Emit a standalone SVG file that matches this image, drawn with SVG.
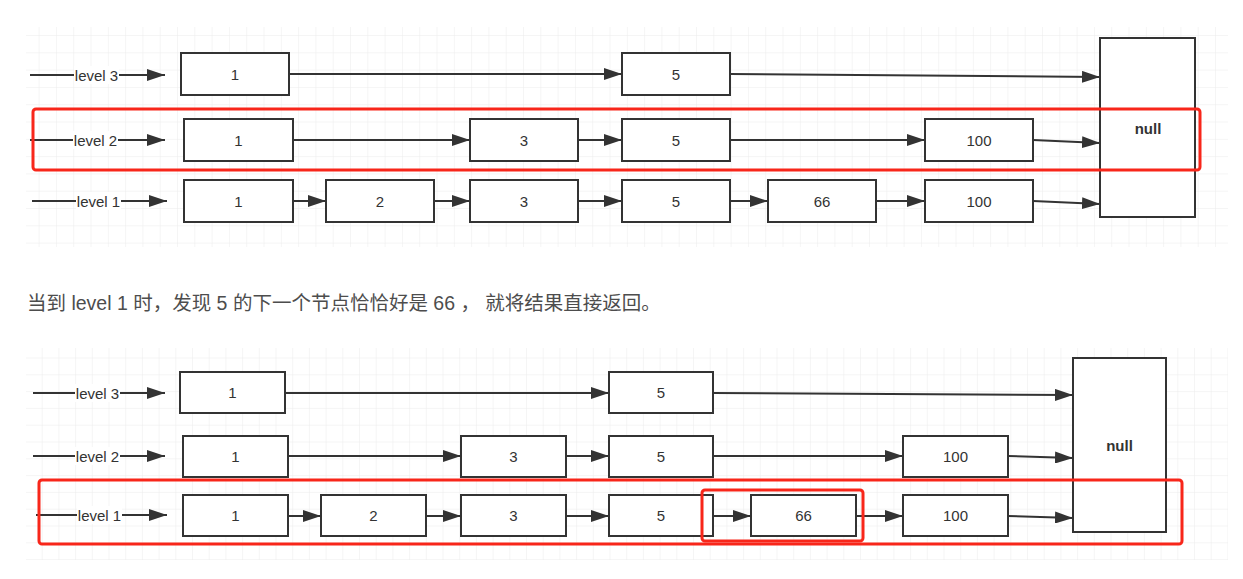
<svg xmlns="http://www.w3.org/2000/svg" width="1243" height="579" viewBox="0 0 1243 579">
<style>
  .node rect { fill: #ffffff; stroke: #333333; stroke-width: 2; }
  .node text { font-family: "Liberation Sans", Arial, sans-serif; font-size: 15px; fill: #333333; text-anchor: middle; dominant-baseline: central; }
  .null text { font-weight: bold; }
  .conn line { stroke: #333333; stroke-width: 2; fill: none; marker-end: url(#arr); }
  .lbl rect { fill: #ffffff; stroke: none; }
  .lbl text { font-family: "Liberation Sans", Arial, sans-serif; font-size: 15px; fill: #333333; text-anchor: middle; dominant-baseline: central; }
  .hl { fill: none; stroke: #f8261a; stroke-width: 3; }
  .caption { font-family: "Liberation Sans", "Noto Sans CJK SC", sans-serif; font-size: 19.5px; fill: #4d4d4d; }
</style>
<defs>
  <marker id="arr" viewBox="0 0 18 12" markerWidth="18" markerHeight="12" refX="18" refY="6" orient="auto" markerUnits="userSpaceOnUse">
    <path d="M0,0 L18,6 L0,12 z" fill="#333333"/>
  </marker>
  <pattern id="gridTop" x="5" y="1.4" width="17.3" height="17.3" patternUnits="userSpaceOnUse">
    <path d="M17.3,0 V17.3 M0,17.3 H17.3" stroke="#ebebeb" stroke-width="1" fill="none"/>
  </pattern>
  <pattern id="gridBot" x="9.3" y="5.7" width="16.7" height="16.8" patternUnits="userSpaceOnUse">
    <path d="M16.7,0 V16.8 M0,16.8 H16.7" stroke="#ebebeb" stroke-width="1" fill="none"/>
  </pattern>
</defs>
<rect width="1243" height="579" fill="#ffffff"/>
<rect x="26" y="27" width="1202" height="220" fill="url(#gridTop)"/>
<rect x="26" y="348" width="1202" height="212" fill="url(#gridBot)"/>

<!-- ===== Top diagram ===== -->
<g id="connectors-top" class="conn">
  <line x1="30" y1="75" x2="165" y2="75"/>
  <line x1="30" y1="140" x2="165" y2="140"/>
  <line x1="32" y1="201" x2="167" y2="201"/>
  <line x1="289" y1="74" x2="622" y2="74"/>
  <line x1="730" y1="74" x2="1100" y2="77"/>
  <line x1="293" y1="140" x2="470" y2="140"/>
  <line x1="578" y1="140" x2="622" y2="140"/>
  <line x1="730" y1="140" x2="925" y2="140"/>
  <line x1="1033" y1="140" x2="1100" y2="143"/>
  <line x1="293" y1="201" x2="326" y2="201"/>
  <line x1="434" y1="201" x2="470" y2="201"/>
  <line x1="578" y1="201" x2="622" y2="201"/>
  <line x1="730" y1="201" x2="768" y2="201"/>
  <line x1="876" y1="201" x2="925" y2="201"/>
  <line x1="1033" y1="201" x2="1100" y2="204"/>
  <g class="lbl">
    <rect x="74" y="66" width="45" height="18"/><text x="96.5" y="75">level 3</text>
    <rect x="73" y="131" width="45" height="18"/><text x="95.5" y="140">level 2</text>
    <rect x="76" y="192" width="45" height="18"/><text x="98.5" y="201">level 1</text>
  </g>
</g>

<g id="t-l3-1" class="node"><rect x="181" y="53" width="108" height="42"/><text x="235" y="74">1</text></g>
<g id="t-l3-5" class="node"><rect x="622" y="53" width="108" height="42"/><text x="676" y="74">5</text></g>
<g id="t-l2-1" class="node"><rect x="184" y="119" width="109" height="42"/><text x="238.5" y="140">1</text></g>
<g id="t-l2-3" class="node"><rect x="470" y="119" width="108" height="42"/><text x="524" y="140">3</text></g>
<g id="t-l2-5" class="node"><rect x="622" y="119" width="108" height="42"/><text x="676" y="140">5</text></g>
<g id="t-l2-100" class="node"><rect x="925" y="119" width="108" height="42"/><text x="979" y="140">100</text></g>
<g id="t-l1-1" class="node"><rect x="184" y="180" width="109" height="42"/><text x="238.5" y="201">1</text></g>
<g id="t-l1-2" class="node"><rect x="326" y="180" width="108" height="42"/><text x="380" y="201">2</text></g>
<g id="t-l1-3" class="node"><rect x="470" y="180" width="108" height="42"/><text x="524" y="201">3</text></g>
<g id="t-l1-5" class="node"><rect x="622" y="180" width="108" height="42"/><text x="676" y="201">5</text></g>
<g id="t-l1-66" class="node"><rect x="768" y="180" width="108" height="42"/><text x="822" y="201">66</text></g>
<g id="t-l1-100" class="node"><rect x="925" y="180" width="108" height="42"/><text x="979" y="201">100</text></g>
<g id="t-null" class="node null"><rect x="1100" y="38" width="95" height="179"/><text x="1148" y="128">null</text></g>

<g id="t-highlight"><rect class="hl" x="33" y="109" width="1167" height="61" rx="3"/></g>

<!-- ===== Caption ===== -->
<text id="caption" class="caption" x="27" y="310">当到 level 1 时，发现 5 的下一个节点恰恰好是 66 ， 就将结果直接返回。</text>

<!-- ===== Bottom diagram ===== -->
<g id="connectors-bottom" class="conn">
  <line x1="33" y1="393" x2="165" y2="393"/>
  <line x1="33" y1="456" x2="165" y2="456"/>
  <line x1="36" y1="515" x2="167" y2="515"/>
  <line x1="285" y1="393" x2="609" y2="393"/>
  <line x1="713" y1="393" x2="1073" y2="395"/>
  <line x1="288" y1="456" x2="461" y2="456"/>
  <line x1="566" y1="456" x2="609" y2="456"/>
  <line x1="713" y1="456" x2="903" y2="456"/>
  <line x1="1008" y1="456" x2="1073" y2="458"/>
  <line x1="288" y1="516" x2="321" y2="516"/>
  <line x1="426" y1="516" x2="461" y2="516"/>
  <line x1="566" y1="516" x2="609" y2="516"/>
  <line x1="713" y1="516" x2="751" y2="516"/>
  <line x1="856" y1="516" x2="903" y2="516"/>
  <line x1="1008" y1="516" x2="1073" y2="518"/>
  <g class="lbl">
    <rect x="75" y="384" width="45" height="18"/><text x="97.5" y="393">level 3</text>
    <rect x="75" y="447" width="45" height="18"/><text x="97.5" y="456">level 2</text>
    <rect x="77" y="506" width="45" height="18"/><text x="99.5" y="515">level 1</text>
  </g>
</g>

<g id="b-l3-1" class="node"><rect x="180" y="372" width="105" height="41"/><text x="232.5" y="392.5">1</text></g>
<g id="b-l3-5" class="node"><rect x="609" y="372" width="104" height="41"/><text x="661" y="392.5">5</text></g>
<g id="b-l2-1" class="node"><rect x="183" y="436" width="105" height="41"/><text x="235.5" y="456.5">1</text></g>
<g id="b-l2-3" class="node"><rect x="461" y="436" width="105" height="41"/><text x="513.5" y="456.5">3</text></g>
<g id="b-l2-5" class="node"><rect x="609" y="436" width="104" height="41"/><text x="661" y="456.5">5</text></g>
<g id="b-l2-100" class="node"><rect x="903" y="436" width="105" height="41"/><text x="955.5" y="456.5">100</text></g>
<g id="b-l1-1" class="node"><rect x="183" y="495" width="105" height="41"/><text x="235.5" y="515.5">1</text></g>
<g id="b-l1-2" class="node"><rect x="321" y="495" width="105" height="41"/><text x="373.5" y="515.5">2</text></g>
<g id="b-l1-3" class="node"><rect x="461" y="495" width="105" height="41"/><text x="513.5" y="515.5">3</text></g>
<g id="b-l1-5" class="node"><rect x="609" y="495" width="104" height="41"/><text x="661" y="515.5">5</text></g>
<g id="b-l1-66" class="node"><rect x="751" y="495" width="105" height="41"/><text x="803.5" y="515.5">66</text></g>
<g id="b-l1-100" class="node"><rect x="903" y="495" width="105" height="41"/><text x="955.5" y="515.5">100</text></g>
<g id="b-null" class="node null"><rect x="1073" y="358" width="93" height="174"/><text x="1119.5" y="445">null</text></g>

<g id="b-highlight">
  <rect class="hl" x="39" y="480" width="1143" height="64" rx="3"/>
  <rect class="hl" x="702" y="490" width="161" height="51" rx="3"/>
</g>
</svg>
